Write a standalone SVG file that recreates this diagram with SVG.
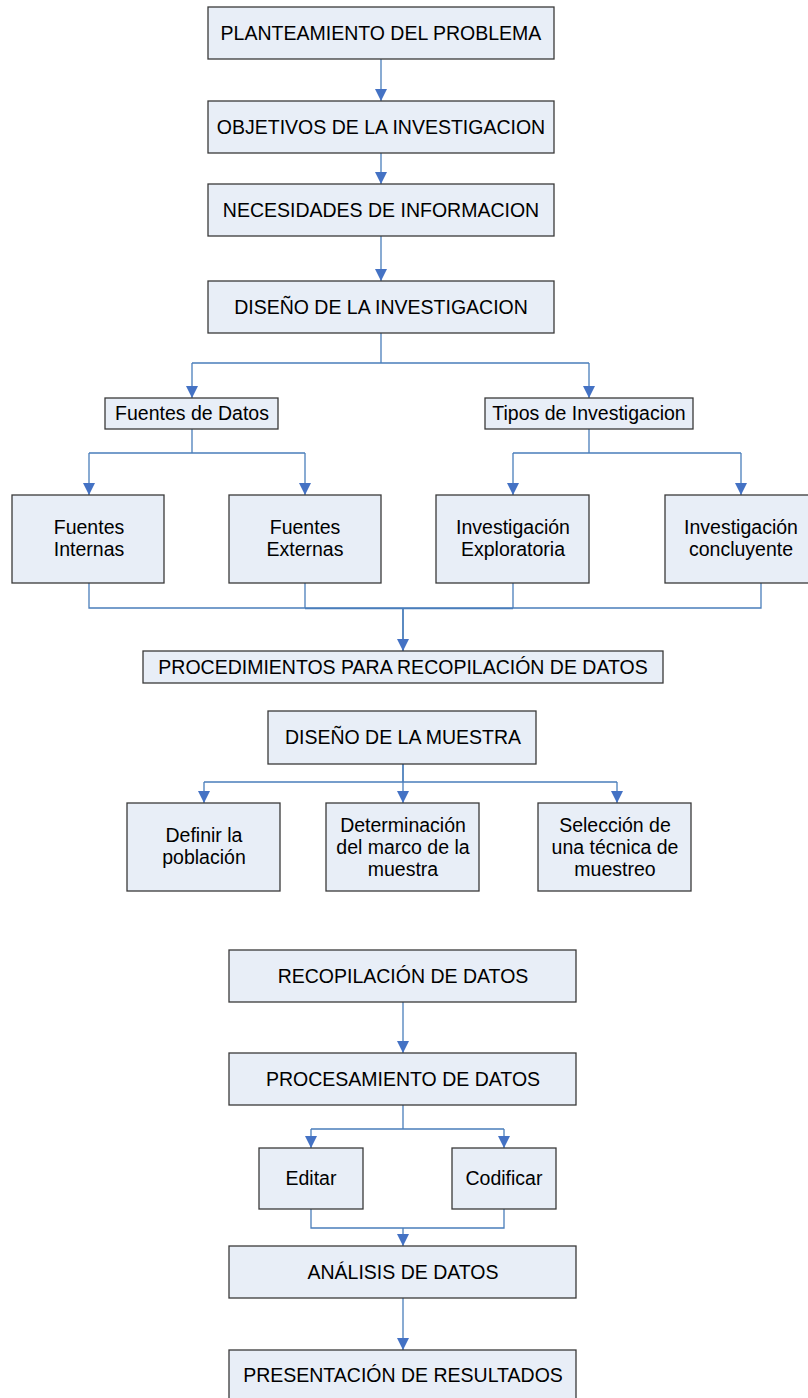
<svg xmlns="http://www.w3.org/2000/svg" width="808" height="1398" viewBox="0 0 808 1398">
  <defs>
    <marker id="arrow" viewBox="0 0 12 12" refX="12" refY="6" markerWidth="12" markerHeight="12" markerUnits="userSpaceOnUse" orient="auto">
      <path d="M0,0 L12,6 L0,12 Z" fill="#4472C4"/>
    </marker>
    <style>
      .box { fill: #E8EEF7; stroke: #3A3A3A; stroke-width: 1.3; }
      .lbl { font-family: "Liberation Sans", Arial, sans-serif; font-size: 19.5px; fill: #000; text-anchor: middle; }
      .con { fill: none; stroke: #4A7EBB; stroke-width: 1.3; }
      .arr { fill: none; stroke: #4A7EBB; stroke-width: 1.3; marker-end: url(#arrow); }
    </style>
  </defs>
  <rect width="808" height="1398" fill="#FFFFFF"/>

  <!-- connectors -->
  <g id="connectors">
    <line class="arr" x1="381" y1="59" x2="381" y2="101"/>
    <line class="arr" x1="381" y1="153" x2="381" y2="184"/>
    <line class="arr" x1="381" y1="236" x2="381" y2="281"/>
    <path class="con" d="M381,333 V363 M192,363 H589"/>
    <line class="arr" x1="192" y1="363" x2="192" y2="398"/>
    <line class="arr" x1="589" y1="363" x2="589" y2="398"/>
    <path class="con" d="M192,429 V453 M89,453 H305 M589,429 V453 M513,453 H741"/>
    <line class="arr" x1="89" y1="453" x2="89" y2="495"/>
    <line class="arr" x1="305" y1="453" x2="305" y2="495"/>
    <line class="arr" x1="513" y1="453" x2="513" y2="495"/>
    <line class="arr" x1="741" y1="453" x2="741" y2="495"/>
    <path class="con" d="M89,583 V608 H761 V583 M305,583 V608 M513,583 V608"/>
    <path class="con" d="M305,608.5 H513"/>
    <line class="arr" x1="403" y1="608" x2="403" y2="651" style="stroke-width:1.8"/>
    <path class="con" d="M403,764 V782 M204,782 H617"/>
    <line class="arr" x1="204" y1="782" x2="204" y2="803"/>
    <line class="arr" x1="403" y1="764" x2="403" y2="803"/>
    <line class="arr" x1="617" y1="782" x2="617" y2="803"/>
    <line class="arr" x1="403" y1="1002" x2="403" y2="1053"/>
    <path class="con" d="M403,1105 V1129 M311,1129 H504"/>
    <line class="arr" x1="311" y1="1129" x2="311" y2="1148"/>
    <line class="arr" x1="504" y1="1129" x2="504" y2="1148"/>
    <path class="con" d="M311,1209 V1228 H504 V1209"/>
    <line class="arr" x1="403" y1="1228" x2="403" y2="1246"/>
    <line class="arr" x1="403" y1="1298" x2="403" y2="1350"/>
  </g>

  <g id="planteamiento">
    <rect class="box" x="208" y="7" width="346" height="52"/>
    <text class="lbl" x="381" y="40">PLANTEAMIENTO DEL PROBLEMA</text>
  </g>
  <g id="objetivos">
    <rect class="box" x="208" y="101" width="346" height="52"/>
    <text class="lbl" x="381" y="134">OBJETIVOS DE LA INVESTIGACION</text>
  </g>
  <g id="necesidades">
    <rect class="box" x="208" y="184" width="346" height="52"/>
    <text class="lbl" x="381" y="217">NECESIDADES DE INFORMACION</text>
  </g>
  <g id="diseno-investigacion">
    <rect class="box" x="208" y="281" width="346" height="52"/>
    <text class="lbl" x="381" y="314">DISEÑO DE LA INVESTIGACION</text>
  </g>
  <g id="fuentes-datos">
    <rect class="box" x="105" y="398" width="173" height="31"/>
    <text class="lbl" x="192" y="420">Fuentes de Datos</text>
  </g>
  <g id="tipos-investigacion">
    <rect class="box" x="485" y="398" width="208" height="31"/>
    <text class="lbl" x="589" y="420">Tipos de Investigacion</text>
  </g>
  <g id="fuentes-internas">
    <rect class="box" x="12" y="495" width="152" height="88"/>
    <text class="lbl" x="89" y="534">Fuentes</text>
    <text class="lbl" x="89" y="556">Internas</text>
  </g>
  <g id="fuentes-externas">
    <rect class="box" x="229" y="495" width="152" height="88"/>
    <text class="lbl" x="305" y="534">Fuentes</text>
    <text class="lbl" x="305" y="556">Externas</text>
  </g>
  <g id="inv-exploratoria">
    <rect class="box" x="436" y="495" width="153" height="88"/>
    <text class="lbl" x="513" y="534">Investigación</text>
    <text class="lbl" x="513" y="556">Exploratoria</text>
  </g>
  <g id="inv-concluyente">
    <rect class="box" x="665" y="495" width="150" height="88"/>
    <text class="lbl" x="741" y="534">Investigación</text>
    <text class="lbl" x="741" y="556">concluyente</text>
  </g>
  <g id="procedimientos">
    <rect class="box" x="143" y="651" width="520" height="32"/>
    <text class="lbl" x="403" y="674">PROCEDIMIENTOS PARA RECOPILACIÓN DE DATOS</text>
  </g>
  <g id="diseno-muestra">
    <rect class="box" x="268" y="711" width="268" height="53"/>
    <text class="lbl" x="403" y="744">DISEÑO DE LA MUESTRA</text>
  </g>
  <g id="definir-poblacion">
    <rect class="box" x="127" y="803" width="153" height="88"/>
    <text class="lbl" x="204" y="842">Definir la</text>
    <text class="lbl" x="204" y="864">población</text>
  </g>
  <g id="marco-muestra">
    <rect class="box" x="326" y="803" width="153" height="88"/>
    <text class="lbl" x="403" y="832">Determinación</text>
    <text class="lbl" x="403" y="854">del marco de la</text>
    <text class="lbl" x="403" y="876">muestra</text>
  </g>
  <g id="tecnica-muestreo">
    <rect class="box" x="538" y="803" width="153" height="88"/>
    <text class="lbl" x="615" y="832">Selección de</text>
    <text class="lbl" x="615" y="854">una técnica de</text>
    <text class="lbl" x="615" y="876">muestreo</text>
  </g>
  <g id="recopilacion">
    <rect class="box" x="229" y="950" width="347" height="52"/>
    <text class="lbl" x="403" y="983">RECOPILACIÓN DE DATOS</text>
  </g>
  <g id="procesamiento">
    <rect class="box" x="229" y="1053" width="347" height="52"/>
    <text class="lbl" x="403" y="1086">PROCESAMIENTO DE DATOS</text>
  </g>
  <g id="editar">
    <rect class="box" x="259" y="1148" width="104" height="61"/>
    <text class="lbl" x="311" y="1185">Editar</text>
  </g>
  <g id="codificar">
    <rect class="box" x="452" y="1148" width="104" height="61"/>
    <text class="lbl" x="504" y="1185">Codificar</text>
  </g>
  <g id="analisis">
    <rect class="box" x="229" y="1246" width="347" height="52"/>
    <text class="lbl" x="403" y="1279">ANÁLISIS DE DATOS</text>
  </g>
  <g id="presentacion">
    <rect class="box" x="229" y="1350" width="347" height="60"/>
    <text class="lbl" x="403" y="1382">PRESENTACIÓN DE RESULTADOS</text>
  </g>
</svg>
